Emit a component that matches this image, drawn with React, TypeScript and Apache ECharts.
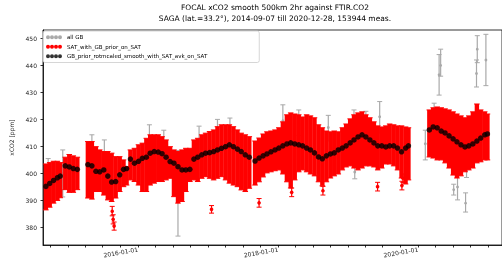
import React, { useEffect, useRef } from 'react';
import * as echarts from 'echarts';

// ---------- texts ----------
const titleLines = [
  'FOCAL xCO2 smooth 500km 2hr against FTIR.CO2',
  'SAGA (lat.=33.2°), 2014-09-07 till 2020-12-28, 153944 meas.',
];
const seriesNames = ['all GB', 'SAT_with_GB_prior_on_SAT', 'GB_prior_rotmcaled_smooth_with_SAT_avk_on_SAT'];
const yAxisName = 'xCO2 [ppm]';

// ---------- axes ----------
const xMin = '2014-08-24';
const xMax = '2021-03-14';
const yMin = 373.5;
const yMax = 453.1;
const yTicks = [380, 390, 400, 410, 420, 430, 440, 450];
const xLabelDates = ['2016-01-01', '2018-01-01', '2020-01-01'];
const xTickDates = [
  '2014-10-01', '2015-01-01', '2015-04-01', '2015-07-01', '2015-10-01',
  '2016-01-01', '2016-04-01', '2016-07-01', '2016-10-01',
  '2017-01-01', '2017-04-01', '2017-07-01', '2017-10-01',
  '2018-01-01', '2018-04-01', '2018-07-01', '2018-10-01',
  '2019-01-01', '2019-04-01', '2019-07-01', '2019-10-01',
  '2020-01-01', '2020-04-01', '2020-07-01', '2020-10-01', '2021-01-01',
];

// ---------- SAT (red) error-bar envelope per time bin + GB prior (black) ----------
const satDates = [
  '2014-09-08', '2014-09-28', '2014-10-18', '2014-11-07', '2014-11-22',
  '2014-12-18', '2015-01-08', '2015-01-29', '2015-02-19',
  '2015-04-15', '2015-05-06', '2015-05-27', '2015-06-16', '2015-07-07', '2015-07-28',
  '2015-08-17', '2015-09-07', '2015-09-28', '2015-10-18', '2015-11-03',
  '2015-11-23', '2015-12-14', '2016-01-04', '2016-01-24', '2016-02-14', '2016-03-05',
  '2016-03-26', '2016-04-16', '2016-05-06', '2016-05-27', '2016-06-17',
  '2016-07-07', '2016-07-28', '2016-08-18', '2016-09-07', '2016-09-28',
  '2016-10-19', '2016-11-08', '2016-11-29', '2016-12-19', '2017-01-09', '2017-01-30',
  '2017-02-19', '2017-03-12', '2017-04-02', '2017-04-22', '2017-05-13', '2017-06-03',
  '2017-06-23', '2017-07-14', '2017-08-04',
  '2017-09-03', '2017-09-24', '2017-10-15', '2017-11-04', '2017-11-25', '2017-12-16',
  '2018-01-05', '2018-01-26', '2018-02-16', '2018-03-08', '2018-03-29', '2018-04-19',
  '2018-05-09', '2018-05-30', '2018-06-19', '2018-07-10', '2018-07-31', '2018-08-20',
  '2018-09-10', '2018-10-01', '2018-10-21', '2018-11-11', '2018-12-02', '2018-12-22',
  '2019-01-12', '2019-02-01', '2019-02-22', '2019-03-15', '2019-04-04', '2019-04-25',
  '2019-05-16', '2019-06-05', '2019-06-26', '2019-07-17', '2019-08-06', '2019-08-27',
  '2019-09-16', '2019-10-07', '2019-10-28', '2019-11-12',
  '2020-02-29', '2020-03-20', '2020-04-10', '2020-05-01', '2020-05-21', '2020-06-11',
  '2020-07-02', '2020-07-22', '2020-08-12', '2020-09-02', '2020-09-22', '2020-10-13',
  '2020-11-03', '2020-11-23', '2020-12-14', '2020-12-28',
];
const satHigh = [
  403.5, 404.0, 404.5, 404.5, 404.0,
  406.0, 407.0, 406.5, 406.0,
  411.8, 411.8, 409.9, 408.7, 408.1, 408.1,
  407.5, 406.2, 406.2, 405.0, 402.5,
  408.7, 409.3, 410.6, 411.2, 413.0, 414.3,
  414.3, 414.3, 413.6, 412.4, 409.9,
  408.7, 408.1, 408.7, 409.3, 409.3,
  412.4, 413.0, 414.3, 414.9, 415.5, 416.1,
  417.3, 418.0, 418.0, 418.0, 417.3, 416.1,
  414.9, 414.3, 413.6,
  412.0, 413.1, 414.6, 415.4, 415.7, 416.1,
  416.9, 419.1, 421.7, 422.4, 422.0, 421.7,
  420.9, 421.7, 421.3, 420.6, 418.0, 416.9,
  415.7, 415.4, 415.7, 415.4, 416.9, 418.3,
  420.2, 421.7, 422.4, 422.8, 421.7, 420.6,
  419.1, 417.6, 417.2, 417.6, 418.3, 418.0,
  417.6, 417.6, 417.2, 416.9,
  423.5, 424.3, 424.6, 424.3, 423.9, 423.5,
  422.8, 422.0, 421.3, 420.6, 421.3, 422.8,
  425.7, 423.5, 422.8, 422.0,
];
const satLow = [
  386.5, 387.5, 389.0, 390.0, 391.0,
  394.0, 393.0, 393.0, 394.0,
  390.9, 390.5, 393.3, 393.3, 392.0, 390.2,
  389.6, 390.9, 393.3, 395.1, 395.7,
  397.6, 397.0, 395.7, 393.3, 393.3, 395.7,
  396.4, 397.0, 397.0, 397.6, 398.2,
  391.4, 389.0, 389.6, 393.3, 397.0,
  397.6, 397.0, 398.2, 398.8, 398.2, 397.6,
  398.2, 398.8, 397.6, 396.4, 395.7, 395.1,
  393.9, 393.3, 394.5,
  395.7, 396.9, 398.7, 400.2, 400.6, 401.0,
  401.3, 399.8, 396.9, 394.6, 397.6, 400.6,
  401.3, 400.6, 399.8, 399.1, 396.9, 395.4,
  396.9, 398.3, 399.1, 399.8, 401.3, 402.4,
  402.8, 402.0, 401.3, 402.0, 402.8, 402.8,
  402.4, 401.3, 402.0, 403.5, 403.5, 402.8,
  401.3, 398.3, 396.1, 397.6,
  406.1, 405.7, 405.0, 405.0, 403.9, 402.0,
  399.4, 398.3, 399.1, 400.6, 401.3, 402.0,
  403.9, 404.3, 405.0, 405.0,
];
const gbPrior = [
  395.2, 396.3, 397.4, 398.4, 399.0,
  402.8, 402.4, 401.8, 401.5,
  403.3, 402.8, 400.8, 400.6, 401.3, 399.0,
  396.8, 397.0, 399.5, 401.5, 401.8,
  405.3, 403.8, 404.5, 405.6, 406.0, 407.5,
  408.1, 407.9, 407.3, 406.0, 404.4,
  403.8, 402.5, 401.3, 401.3, 401.5,
  405.3, 406.0, 406.9, 407.5, 407.7, 408.1,
  408.7, 409.3, 409.9, 410.6, 409.9, 409.0,
  408.1, 406.9, 406.0,
  404.6, 405.7, 406.5, 407.2, 408.0, 408.7,
  409.4, 410.2, 410.9, 411.3, 410.9, 410.6,
  410.2, 409.4, 408.7, 407.6, 406.1, 405.4,
  406.5, 407.2, 407.6, 408.7, 409.4, 410.2,
  411.3, 412.4, 413.5, 414.3, 413.5, 412.4,
  411.3, 410.2, 410.2, 409.8, 410.2, 410.2,
  409.4, 408.0, 409.4, 410.2,
  416.1, 417.2, 416.9, 415.7, 415.0, 413.9,
  412.8, 411.7, 410.6, 409.8, 410.2, 410.9,
  412.0, 413.1, 414.3, 414.6,
];

// ---------- isolated SAT points (red) ----------
const outDates = ['2015-08-20', '2015-08-25', '2015-08-30', '2017-01-19', '2017-09-24', '2018-03-13', '2018-08-23', '2019-06-04', '2019-10-09', '2019-10-14'];
const outMid = [386.0, 383.0, 380.5, 386.7, 389.1, 393.0, 393.6, 395.1, 395.5, 398.2];
const outLow = [384.3, 381.3, 379.0, 385.3, 387.5, 391.4, 392.0, 393.5, 393.9, 396.6];
const outHigh = [387.8, 384.7, 382.0, 388.1, 390.7, 394.6, 395.2, 396.7, 397.1, 399.8];

// ---------- all GB (gray) visible error bars ----------
const grayDates = [
  '2014-09-20', '2014-12-05', '2015-05-06', '2015-07-10', '2016-03-01', '2016-05-15',
  '2016-07-28', '2016-11-15', '2017-02-19', '2017-04-25', '2018-01-26', '2018-04-19',
  '2018-09-20', '2019-02-01', '2019-04-04', '2019-06-15', '2019-02-05', '2020-02-08',
  '2020-03-25', '2020-04-20', '2020-04-28', '2020-07-05', '2020-07-25', '2020-09-05',
  '2020-09-10', '2020-11-01', '2020-11-05', '2020-12-20',
];
const grayMid = [
  398.0, 400.0, 409.0, 407.0, 413.0, 411.0,
  392.6, 412.0, 415.0, 415.5, 419.5, 418.5,
  417.0, 419.0, 418.0, 421.0, 400.5, 411.0,
  421.0, 436.5, 440.0, 394.0, 395.0, 389.0,
  401.0, 437.0, 446.0, 442.0,
];
const grayLow = [
  390.0, 391.3, 404.0, 402.0, 408.0, 406.0,
  376.8, 407.0, 410.0, 411.0, 414.0, 414.0,
  412.0, 414.0, 414.0, 415.0, 398.0, 405.0,
  416.0, 429.0, 436.0, 392.0, 390.2, 385.7,
  398.5, 432.0, 441.0, 432.5,
];
const grayHigh = [
  405.5, 408.7, 414.3, 412.4, 418.0, 416.0,
  408.5, 417.5, 420.0, 420.5, 425.4, 423.5,
  421.5, 423.5, 423.0, 426.6, 403.0, 416.0,
  426.0, 444.0, 446.0, 396.0, 400.0, 392.8,
  404.0, 442.0, 451.0, 451.5,
];

// ---------- colors ----------
const RED = '#ff0000';
const BLACK = '#000000';
const GRAY = '#a9a9a9';
const FONT = 'DejaVu Sans';

const ms = (d: string) => Date.parse(d);

function errorBars(color: string, barWidth: number, capHalf: number, dotR: number) {
  return (params: any, api: any) => {
    const t = api.value(0);
    const lo = api.value(1);
    const hi = api.value(2);
    const mid = api.value(3);
    const a = api.coord([t, hi]);
    const b = api.coord([t, lo]);
    const children: any[] = [];
    if (barWidth > 1.6) {
      children.push({
        type: 'rect',
        shape: { x: a[0] - barWidth / 2, y: a[1], width: barWidth, height: b[1] - a[1] },
        style: { fill: color },
      });
    } else {
      children.push({
        type: 'line',
        shape: { x1: a[0], y1: a[1], x2: b[0], y2: b[1] },
        style: { stroke: color, lineWidth: barWidth },
      });
    }
    children.push({
      type: 'line',
      shape: { x1: a[0] - capHalf, y1: a[1], x2: a[0] + capHalf, y2: a[1] },
      style: { stroke: color, lineWidth: 1 },
    });
    children.push({
      type: 'line',
      shape: { x1: b[0] - capHalf, y1: b[1], x2: b[0] + capHalf, y2: b[1] },
      style: { stroke: color, lineWidth: 1 },
    });
    if (dotR > 0 && mid != null && !isNaN(mid)) {
      const m = api.coord([t, mid]);
      children.push({ type: 'circle', shape: { cx: m[0], cy: m[1], r: dotR }, style: { fill: color } });
    }
    return { type: 'group', children };
  };
}

const dotsIcon =
  'path://M0,2a2,2 0 1,0 4,0a2,2 0 1,0 -4,0ZM4,2a2,2 0 1,0 4,0a2,2 0 1,0 -4,0ZM8,2a2,2 0 1,0 4,0a2,2 0 1,0 -4,0ZM12,2a2,2 0 1,0 4,0a2,2 0 1,0 -4,0Z';

export default function App() {
  const ref = useRef<HTMLDivElement>(null);
  useEffect(() => {
    const chart = echarts.init(ref.current!, null, { renderer: 'svg' });

    const grayData = grayDates.map((d, i) => [ms(d), grayLow[i], grayHigh[i], grayMid[i]]);
    const satData = satDates.map((d, i) => [ms(d), satLow[i], satHigh[i], NaN]);
    const outData = outDates.map((d, i) => [ms(d), outLow[i], outHigh[i], outMid[i]]);
    const gbData = satDates.map((d, i) => [ms(d), gbPrior[i]]);

    const option: any = {
      animation: false,
      textStyle: { fontFamily: FONT },
      title: {
        text: titleLines.join('\n'),
        left: 275,
        top: 2,
        padding: 0,
        textAlign: 'center',
        textStyle: { fontSize: 7.5, fontWeight: 'normal', color: '#000', fontFamily: FONT, lineHeight: 11 },
      },
      legend: {
        orient: 'vertical',
        left: 43,
        top: 31,
        z: 20,
        padding: [3, 52, 3, 3],
        itemWidth: 16,
        itemHeight: 4,
        itemGap: 3,
        backgroundColor: 'rgba(255,255,255,0.85)',
        borderColor: '#cccccc',
        borderWidth: 0.8,
        borderRadius: 2,
        textStyle: { fontSize: 5.5, color: '#000', fontFamily: FONT, lineHeight: 6.5 },
        data: [
          { name: seriesNames[0], icon: dotsIcon, itemStyle: { color: GRAY } },
          { name: seriesNames[1], icon: dotsIcon, itemStyle: { color: RED } },
          { name: seriesNames[2], icon: dotsIcon, itemStyle: { color: BLACK } },
        ],
      },
      grid: {
        left: 43,
        right: -5,
        top: 30,
        bottom: 22,
        show: true,
        borderColor: '#000',
        borderWidth: 0.8,
        backgroundColor: 'transparent',
      },
      xAxis: {
        type: 'value',
        min: ms(xMin),
        max: ms(xMax),
        splitLine: { show: false },
        axisLine: { lineStyle: { color: '#000', width: 0.8 } },
        axisTick: {
          show: true,
          length: 2.5,
          lineStyle: { color: '#000', width: 0.8 },
          customValues: xTickDates.map(ms),
        },
        axisLabel: {
          customValues: xLabelDates.map(ms),
          formatter: (v: number) => new Date(v).toISOString().slice(0, 10),
          rotate: 10,
          fontSize: 6,
          color: '#222',
          margin: 4,
          fontFamily: FONT,
        },
      },
      yAxis: {
        type: 'value',
        min: yMin,
        max: yMax,
        name: yAxisName,
        nameLocation: 'middle',
        nameGap: 27,
        nameTextStyle: { fontSize: 6, color: '#222', fontFamily: FONT },
        splitLine: { show: false },
        axisLine: { show: true, lineStyle: { color: '#000', width: 0.8 } },
        axisTick: { show: true, length: 2.5, lineStyle: { color: '#000', width: 0.8 }, customValues: yTicks },
        axisLabel: { customValues: yTicks, fontSize: 6, color: '#222', margin: 6, fontFamily: FONT },
      },
      series: [
        {
          name: seriesNames[0],
          type: 'custom',
          clip: true,
          z: 1,
          itemStyle: { color: GRAY },
          encode: { x: 0, y: [1, 2] },
          renderItem: errorBars(GRAY, 1.2, 2.5, 1.4),
          data: grayData,
        },
        {
          name: seriesNames[1],
          type: 'custom',
          clip: true,
          z: 2,
          itemStyle: { color: RED },
          encode: { x: 0, y: [1, 2] },
          renderItem: errorBars(RED, 4.4, 2.8, 0),
          data: satData,
        },
        {
          name: seriesNames[1],
          type: 'custom',
          clip: true,
          z: 2,
          itemStyle: { color: RED },
          encode: { x: 0, y: [1, 2] },
          renderItem: errorBars(RED, 1.2, 2.5, 1.8),
          data: outData,
        },
        {
          name: seriesNames[2],
          type: 'scatter',
          z: 3,
          symbol: 'circle',
          symbolSize: 5.5,
          itemStyle: { color: BLACK },
          data: gbData,
        },
      ],
    };
    chart.setOption(option);
    return () => chart.dispose();
  }, []);
  return <div ref={ref} style={{ position: 'fixed', left: 0, top: 0, width: 502, height: 267 }} />;
}
